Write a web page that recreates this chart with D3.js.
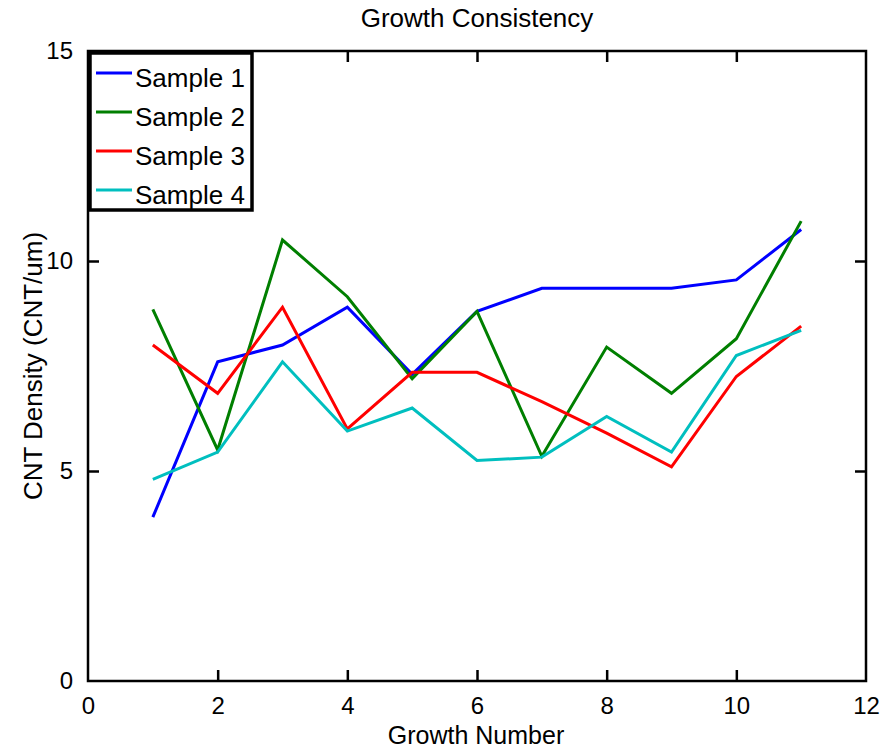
<!DOCTYPE html>
<html>
<head>
<meta charset="utf-8">
<script src="https://cdn.jsdelivr.net/npm/d3@7"></script>
<style>
  html, body { margin: 0; padding: 0; background: #fff; }
  svg { display: block; font-family: Arial, "Liberation Sans", sans-serif; }
</style>
</head>
<body>
<svg id="chart" width="891" height="750"></svg>
<script>
// Growth run index
const growthNumber = [1, 2, 3, 4, 5, 6, 7, 8, 9, 10, 11];

// CNT density per sample (CNT/um)
const sample1 = [3.9, 7.6, 8.0, 8.9, 7.3, 8.8, 9.35, 9.35, 9.35, 9.55, 10.75];
const sample2 = [8.85, 5.5, 10.5, 9.15, 7.2, 8.8, 5.35, 7.95, 6.85, 8.15, 10.95];
const sample3 = [8.0, 6.85, 8.9, 6.0, 7.35, 7.35, 6.65, 5.9, 5.1, 7.25, 8.45];
const sample4 = [4.8, 5.45, 7.6, 5.95, 6.5, 5.25, 5.33, 6.3, 5.45, 7.75, 8.35];

const seriesNames = ["Sample 1", "Sample 2", "Sample 3", "Sample 4"];
const seriesColors = ["#0000ff", "#007f00", "#ff0000", "#00bfbf"];
const seriesValues = [sample1, sample2, sample3, sample4];

const xTicks = [0, 2, 4, 6, 8, 10, 12];
const yTicks = [0, 5, 10, 15];

const svg = d3.select("#chart");
const plotL = 88, plotR = 866, plotT = 51, plotB = 681;

const x = d3.scaleLinear().domain([0, 12]).range([plotL, plotR]);
const y = d3.scaleLinear().domain([0, 15]).range([plotB, plotT]);

const tickLen = 11;

// Frame with inward ticks on all four sides
const axisStyle = g => {
  g.select(".domain").remove();
  g.selectAll("line").attr("stroke", "#000").attr("stroke-width", 2.5);
  g.selectAll("text").attr("fill", "#000").attr("font-size", 24)
    .attr("font-family", "Arial, 'Liberation Sans', sans-serif");
};

svg.append("g").attr("transform", `translate(0,${plotB})`)
  .call(d3.axisBottom(x).tickValues(xTicks).tickFormat(d3.format("d"))
    .tickSizeInner(-tickLen).tickSizeOuter(0).tickPadding(16))
  .call(axisStyle);

svg.append("g").attr("transform", `translate(0,${plotT})`)
  .call(d3.axisTop(x).tickValues(xTicks).tickFormat("")
    .tickSizeInner(-tickLen).tickSizeOuter(0))
  .call(axisStyle);

svg.append("g").attr("transform", `translate(${plotL},0)`)
  .call(d3.axisLeft(y).tickValues(yTicks).tickFormat(d3.format("d"))
    .tickSizeInner(-tickLen).tickSizeOuter(0).tickPadding(tickLen + 4))
  .call(axisStyle);

svg.append("g").attr("transform", `translate(${plotR},0)`)
  .call(d3.axisRight(y).tickValues(yTicks).tickFormat("")
    .tickSizeInner(-tickLen).tickSizeOuter(0))
  .call(axisStyle);

// Remove tick marks that would sit on the frame corners
svg.selectAll(".tick").filter(d => d === 0 || d === 12 || d === 15)
  .select("line").remove();

svg.append("rect")
  .attr("x", plotL).attr("y", plotT)
  .attr("width", plotR - plotL).attr("height", plotB - plotT)
  .attr("fill", "none").attr("stroke", "#000").attr("stroke-width", 2.5);

// Data lines
const line = d3.line()
  .x((d, i) => x(growthNumber[i]))
  .y(d => y(d));

seriesValues.forEach((vals, k) => {
  svg.append("path")
    .datum(vals)
    .attr("d", line)
    .attr("fill", "none")
    .attr("stroke", seriesColors[k])
    .attr("stroke-width", 3)
    .attr("stroke-linejoin", "miter");
});

// Legend
const legend = svg.append("g");
legend.append("rect")
  .attr("x", 90).attr("y", 53).attr("width", 162).attr("height", 157)
  .attr("fill", "#fff").attr("stroke", "#000").attr("stroke-width", 3.5);

seriesNames.forEach((name, k) => {
  const yy = 73 + k * 39;
  legend.append("line")
    .attr("x1", 96).attr("x2", 132).attr("y1", yy).attr("y2", yy)
    .attr("stroke", seriesColors[k]).attr("stroke-width", 3);
  legend.append("text")
    .attr("x", 135).attr("y", yy + 14)
    .attr("font-size", 26).attr("fill", "#000")
    .text(name);
});

// Titles
svg.append("text")
  .attr("x", 477).attr("y", 27)
  .attr("text-anchor", "middle").attr("font-size", 26)
  .text("Growth Consistency");

svg.append("text")
  .attr("x", 476).attr("y", 744)
  .attr("text-anchor", "middle").attr("font-size", 25)
  .text("Growth Number");

svg.append("text")
  .attr("transform", "translate(42,366) rotate(-90)")
  .attr("text-anchor", "middle").attr("font-size", 26)
  .text("CNT Density (CNT/um)");
</script>
</body>
</html>
